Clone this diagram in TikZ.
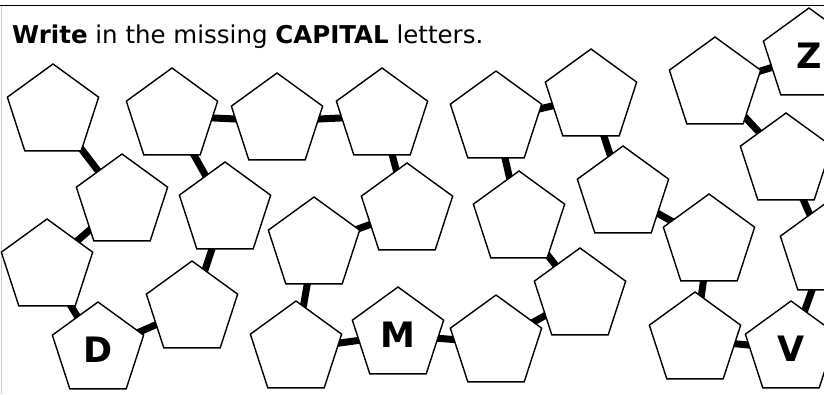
\documentclass[tikz,border=0pt]{standalone}
\usepackage{fontspec}
\setmainfont{DejaVu Sans}
\usetikzlibrary{shapes.geometric,backgrounds}

\begin{document}
\begin{tikzpicture}[x=1pt,y=-1pt,
    penta/.style={draw, line width=1.4pt, fill=white, shape=regular polygon,
      regular polygon sides=5, minimum size=96pt, inner sep=0pt,
      font=\bfseries\fontsize{35}{35}\selectfont},
    bar/.style={line width=7pt}]
      \useasboundingbox (0,0) rectangle (824,394);
      \clip (0,0) rectangle (824,394);

      % Frame
      \draw[line width=1.5pt] (0,5.5) -- (824,5.5);
      \draw[gray!40, line width=1pt] (1,5.5) -- (1,394);

      % Instruction
      \node[anchor=base west, inner sep=0pt, font=\fontsize{24.5}{24.5}\selectfont] (title) at (12,43)
        {\textbf{Write} in the missing \textbf{CAPITAL} letters.};

      % A to I
      \node[penta] (p1) at (53,112) {};
      \node[penta] (p2) at (122,202) {};
      \node[penta] (p3) at (47,267) {};
      \node[penta] (p4) at (98,350) {D};
      \node[penta] (p5) at (192,309) {};
      \node[penta] (p6) at (225,210) {};
      \node[penta] (p7) at (172,116) {};
      \node[penta] (p8) at (277,121) {};
      \node[penta] (p9) at (382,116) {};

      % J to R
      \node[penta] (p10) at (407,211) {};
      \node[penta] (p11) at (314,245) {};
      \node[penta] (p12) at (296,349) {};
      \node[penta] (p13) at (398,335) {M};
      \node[penta] (p14) at (496,343) {};
      \node[penta] (p15) at (580,296) {};
      \node[penta] (p16) at (519,219) {};
      \node[penta] (p17) at (496,119) {};
      \node[penta] (p18) at (591,97) {};

      % S to Z
      \node[penta] (p19) at (623,194) {};
      \node[penta] (p20) at (709,242) {};
      \node[penta] (p21) at (695,340) {};
      \node[penta] (p22) at (791,349) {V};
      \node[penta] (p23) at (826,251) {};
      \node[penta] (p24) at (786,161) {};
      \node[penta] (p25) at (715,85) {};
      \node[penta] (p26) at (809,56) {Z};

      % Links
      \begin{scope}[on background layer]
        \foreach \a/\b in {1/2,2/3,3/4,4/5,5/6,6/7,7/8,8/9,9/10,10/11,11/12,12/13,
            13/14,14/15,15/16,16/17,17/18,18/19,19/20,20/21,21/22,22/23,23/24,
            24/25,25/26}
          \draw[bar] (p\a.center) -- (p\b.center);
      \end{scope}
\end{tikzpicture}
\end{document}
